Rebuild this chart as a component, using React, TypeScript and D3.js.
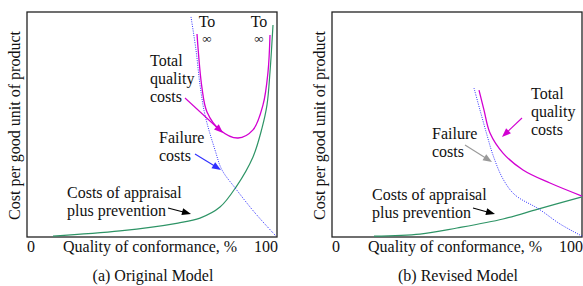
import React from "react";
import * as d3 from "d3";

// [quality of conformance %, cost]
const failureA: [number, number][] = [
  [65.6, 97.8], [67.6, 83.1], [69.2, 67.6], [71.2, 54.2], [75.2, 38.7],
  [78, 29.8], [83.6, 21.3], [91.2, 10.7], [99.6, 0.4],
];
const totalA: [number, number][] = [
  [68, 90.2], [70, 66.2], [72, 55.6], [77.2, 47.6], [84.4, 44],
  [90.4, 47.6], [94.4, 58.7], [96.4, 73.3], [97.2, 89.8],
];
const appraisalA: [number, number][] = [
  [10.4, 0.4], [37.2, 2.7], [60.4, 6.2], [69.2, 8.4], [77.2, 13.3],
  [83.6, 22.2], [90.4, 35.6], [94, 48.4], [96, 58.7], [97.2, 73.3], [98.4, 94.2],
];

const failureB: [number, number][] = [
  [56.8, 66.2], [59.2, 56.4], [62, 45.3], [64.4, 36.4], [68.4, 25.8],
  [73.2, 18.7], [82.8, 12.4], [91.2, 5.8], [100, 0.4],
];
const totalB: [number, number][] = [
  [58.8, 65.3], [60.8, 56.4], [63.2, 46.2], [68.4, 37.3], [76.4, 29.8],
  [87.2, 24], [100, 18.2],
];
const appraisalB: [number, number][] = [
  [16.8, 0.4], [35.2, 1.3], [50, 4], [68.4, 8], [82.4, 12.4], [100, 17.8],
];

const xTicks = ["0", "100"];
const xTitle = "Quality of conformance, %";
const yTitle = "Cost per good unit of product";

const W = 583;
const H = 286;
const FONT = "'Liberation Serif', 'Times New Roman', serif";
const FS = 16;

const BLUE = "#3030ff";
const GREEN = "#2e9466";
const MAGENTA = "#d200d2";

const x = d3.scaleLinear().domain([0, 100]).range([27, 277]);
const y = d3.scaleLinear().domain([0, 100]).range([237, 12]);

const line = d3
  .line<[number, number]>()
  .x((d) => x(d[0]))
  .y((d) => y(d[1]))
  .curve(d3.curveCatmullRom.alpha(0.5));

function Arrow({ x1, y1, x2, y2, color }: { x1: number; y1: number; x2: number; y2: number; color: string }) {
  const a = Math.atan2(y2 - y1, x2 - x1);
  const len = 9;
  const hw = 3.5;
  const bx = x2 - len * Math.cos(a);
  const by = y2 - len * Math.sin(a);
  const px = -Math.sin(a) * hw;
  const py = Math.cos(a) * hw;
  return (
    <g>
      <line x1={x1} y1={y1} x2={bx + 2 * Math.cos(a)} y2={by + 2 * Math.sin(a)} stroke={color} strokeWidth={1.1} />
      <polygon points={`${x2},${y2} ${bx + px},${by + py} ${bx - px},${by - py}`} fill={color} />
    </g>
  );
}

function Lines({ x0, y0, lines }: { x0: number; y0: number; lines: string[] }) {
  return (
    <text x={x0} y={y0}>
      {lines.map((l, i) => (
        <tspan key={i} x={x0} dy={i === 0 ? 0 : 18}>
          {l}
        </tspan>
      ))}
    </text>
  );
}

function Panel({
  ox, failure, total, appraisal, caption, children,
}: {
  ox: number;
  failure: [number, number][];
  total: [number, number][];
  appraisal: [number, number][];
  caption: string;
  children?: React.ReactNode;
}) {
  const [x0, x1] = x.range();
  const [y0, y1] = y.range();
  return (
    <g transform={`translate(${ox},0)`}>
      <rect x={x0} y={y1} width={x1 - x0} height={y0 - y1} fill="none" stroke="#222" strokeWidth={1.3} />
      <path d={line(appraisal) ?? ""} fill="none" stroke={GREEN} strokeWidth={1.2} />
      <path d={line(failure) ?? ""} fill="none" stroke={BLUE} strokeWidth={1} strokeDasharray="1 1.3" />
      <path d={line(total) ?? ""} fill="none" stroke={MAGENTA} strokeWidth={1.3} />
      <text x={x0} y={252}>{xTicks[0]}</text>
      <text x={x1 + 1} y={252} textAnchor="end">{xTicks[1]}</text>
      <text x={63} y={252}>{xTitle}</text>
      <text transform={`translate(20,${(y0 + y1) / 2 + 1}) rotate(-90)`} textAnchor="middle">{yTitle}</text>
      <text x={(x0 + x1) / 2 + 1} y={281} textAnchor="middle">{caption}</text>
      {children}
    </g>
  );
}

export default function App() {
  return (
    <svg
      width={W}
      height={H}
      viewBox={`0 0 ${W} ${H}`}
      style={{ position: "absolute", left: 0, top: 0, background: "#fff" }}
      fontFamily={FONT}
      fontSize={FS}
      fill="#111"
    >
      <Panel ox={0} failure={failureA} total={totalA} appraisal={appraisalA} caption="(a) Original Model">
        <text x={207} y={27} textAnchor="middle">To</text>
        <text x={207} y={43} textAnchor="middle" fontSize={13}>∞</text>
        <text x={259} y={27} textAnchor="middle">To</text>
        <text x={259} y={43} textAnchor="middle" fontSize={13}>∞</text>
        <Lines x0={150} y0={66} lines={["Total", "quality", "costs"]} />
        <Arrow x1={185} y1={98} x2={223} y2={133} color={MAGENTA} />
        <Lines x0={159} y0={143} lines={["Failure", "costs"]} />
        <Arrow x1={195} y1={154} x2={221} y2={170} color={BLUE} />
        <Lines x0={67} y0={198} lines={["Costs of appraisal", "plus prevention"]} />
        <Arrow x1={168} y1={208} x2={191} y2={214} color="#000" />
      </Panel>
      <Panel ox={305} failure={failureB} total={totalB} appraisal={appraisalB} caption="(b) Revised Model">
        <Lines x0={226} y0={99} lines={["Total", "quality", "costs"]} />
        <Arrow x1={217} y1={118} x2={197} y2={137} color={MAGENTA} />
        <Lines x0={127} y0={139} lines={["Failure", "costs"]} />
        <Arrow x1={160} y1={145} x2={187} y2={162} color="#999" />
        <Lines x0={67} y0={200} lines={["Costs of appraisal", "plus prevention"]} />
        <Arrow x1={168} y1={208} x2={190} y2={214} color="#000" />
      </Panel>
    </svg>
  );
}
